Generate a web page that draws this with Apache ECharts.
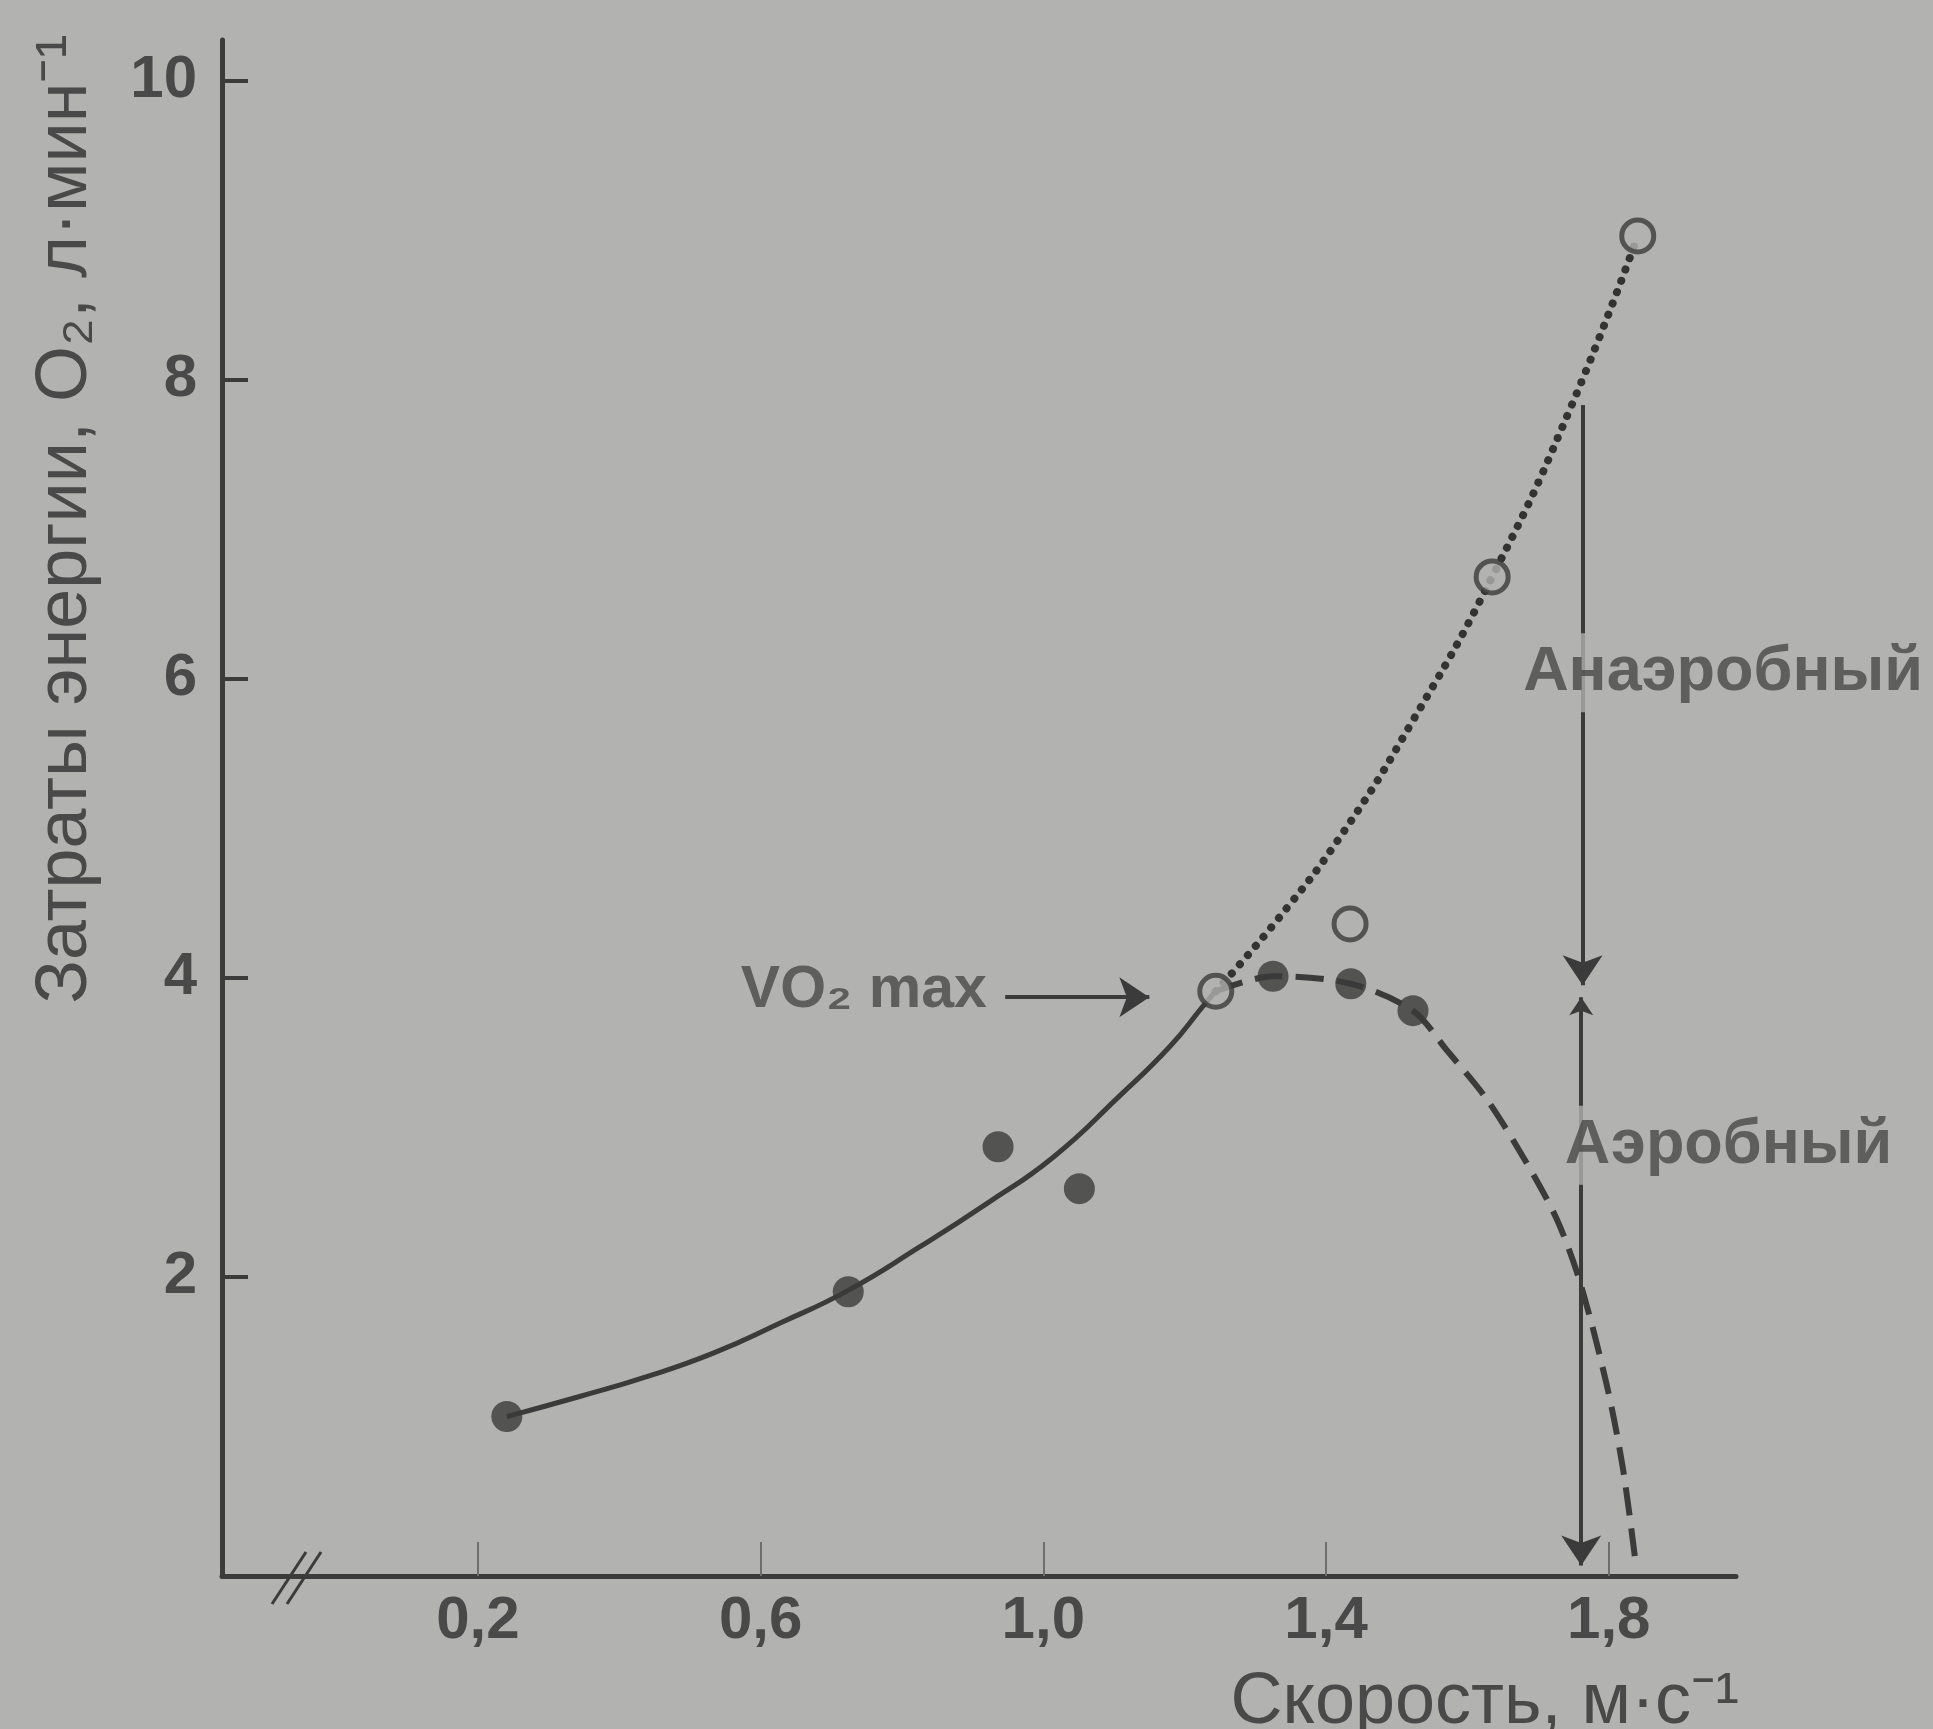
<!DOCTYPE html>
<html>
<head>
<meta charset="utf-8">
<script src="https://cdn.jsdelivr.net/npm/echarts@6/dist/echarts.min.js"></script>
<style>
html,body{margin:0;padding:0;background:#b2b2b0;}
#chart{width:1933px;height:1729px;}
</style>
</head>
<body>
<div id="chart"></div>
<script>
// ---- data ----
var xTicks = [0.2, 0.6, 1.0, 1.4, 1.8];
var yTicks = [2, 4, 6, 8, 10];

var filledX = [0.241, 0.724, 0.936, 1.051, 1.325, 1.435, 1.523];
var filledY = [1.066, 1.90, 2.87, 2.59, 4.01, 3.96, 3.78];

var openX = [1.244, 1.434, 1.635, 1.841];
var openY = [3.91, 4.36, 6.68, 8.96];

// solid fitted curve (aerobic rise)
var solidX = [0.241, 0.344, 0.439, 0.533, 0.627, 0.724, 0.825, 0.920, 1.014, 1.108, 1.179, 1.226, 1.244];
var solidY = [1.066, 1.20, 1.333, 1.49, 1.69, 1.91, 2.20, 2.49, 2.80, 3.21, 3.54, 3.81, 3.91];

// dashed curve (after VO2 max)
var dashX = [1.244, 1.325, 1.435, 1.523, 1.570, 1.627, 1.679, 1.726, 1.759, 1.797, 1.820, 1.839];
var dashY = [3.91, 4.01, 3.96, 3.78, 3.52, 3.19, 2.80, 2.39, 1.97, 1.28, 0.72, 0.05];

// dotted curve (total demand)
var dotX = [1.244, 1.335, 1.424, 1.518, 1.635, 1.745, 1.841];
var dotY = [3.91, 4.41, 4.97, 5.68, 6.68, 7.80, 8.96];

// arrows
var anaerobicArrow = [[1.763, 7.83], [1.763, 3.95]];
var aerobicArrow = [[1.761, 3.87], [1.761, 0.07]];
var vo2Arrow = [[0.946, 3.87], [1.150, 3.87]];

// annotations
var annText = ['VO\u2082 max', 'Анаэробный', 'Аэробный'];
var annX = [0.92, 1.676, 1.735];
var annY = [3.91, 6.04, 2.88];

var yTitle = 'Затраты энергии, O\u2082, л·мин\u207B\u00B9';
var xTitle = 'Скорость, м·с\u207B\u00B9';

// ---- chart ----
var INK = '#3b3b3b';
var TXT = '#494949';
var BG = '#b2b2b0';
var SANS = '"Liberation Sans", Arial, sans-serif';

function zip(a, b) { return a.map(function (v, i) { return [v, b[i]]; }); }

var chart = echarts.init(document.getElementById('chart'), null, {renderer: 'canvas'});

var annData = annText.map(function (t, i) {
  var isVo = i === 0;
  return {
    value: [annX[i], annY[i]],
    label: {
      show: true,
      formatter: t,
      position: [0, 0],
      align: isVo ? 'right' : 'left',
      verticalAlign: 'middle',
      fontFamily: SANS,
      fontWeight: 'bold',
      fontSize: isVo ? 59 : 63,
      color: TXT,
      backgroundColor: isVo ? 'transparent' : BG,
      padding: isVo ? 0 : [8, 2, 8, 2]
    }
  };
});

var option = {
  backgroundColor: BG,
  animation: false,
  grid: {left: 222, right: 197, top: 40, bottom: 153, containLabel: false},
  xAxis: {
    type: 'value', min: -0.162, max: 1.98,
    splitLine: {show: false},
    axisLine: {onZero: false, lineStyle: {color: INK, width: 5}},
    axisTick: {inside: true, length: 34, customValues: xTicks, lineStyle: {color: '#6e6e6e', width: 2}},
    axisLabel: {
      customValues: xTicks, margin: 15, fontSize: 60, fontWeight: 'bold', fontFamily: SANS, color: TXT,
      formatter: function (v) { return v.toFixed(1).replace('.', ','); }
    }
  },
  yAxis: {
    type: 'value', min: 0, max: 10.27,
    splitLine: {show: false},
    axisLine: {onZero: false, lineStyle: {color: INK, width: 5}},
    axisTick: {inside: true, length: 26, customValues: yTicks, lineStyle: {color: INK, width: 4}},
    axisLabel: {customValues: yTicks, margin: 25, fontSize: 60, fontWeight: 'bold', fontFamily: SANS, color: TXT}
  },
  series: [
    {type: 'line', data: zip(solidX, solidY), smooth: 0.5, symbol: 'none',
      lineStyle: {color: INK, width: 5}, z: 2},
    {type: 'line', data: zip(dashX, dashY), smooth: 0.3, symbol: 'none',
      lineStyle: {color: INK, width: 6, type: [28, 13]}, z: 2},
    {type: 'line', data: zip(dotX, dotY), smooth: 0.5, symbol: 'none',
      lineStyle: {color: '#333333', width: 8, type: [0.1, 12], cap: 'round'}, z: 2},
    {type: 'scatter', data: zip(filledX, filledY), symbol: 'circle', symbolSize: 31,
      itemStyle: {color: INK}, z: 4},
    {type: 'scatter', data: zip(openX, openY), symbol: 'circle', symbolSize: 32,
      itemStyle: {color: BG, borderColor: INK, borderWidth: 5}, z: 5},
    {type: 'lines', coordinateSystem: 'cartesian2d', symbol: ['none', 'arrow'], symbolSize: [18, 30],
      lineStyle: {color: INK, width: 4, opacity: 1},
      data: [{coords: anaerobicArrow}, {coords: vo2Arrow}], z: 3},
    {type: 'lines', coordinateSystem: 'cartesian2d', symbol: ['arrow', 'arrow'], symbolSize: [18, 30],
      lineStyle: {color: INK, width: 4, opacity: 1},
      data: [{coords: aerobicArrow}], z: 3},
    {type: 'scatter', data: annData, symbolSize: 0, itemStyle: {color: 'transparent'}, z: 6}
  ],
  graphic: [
    {type: 'text', x: 66, y: 519, rotation: Math.PI / 2,
      style: {text: yTitle, fontSize: 72, fontFamily: SANS, fill: TXT, textAlign: 'center', textVerticalAlign: 'middle'}},
    {type: 'text', x: 1739, y: 1703,
      style: {text: xTitle, fontSize: 72, fontFamily: SANS, fill: TXT, textAlign: 'right', textVerticalAlign: 'middle'}},
    {type: 'line', shape: {x1: 272, y1: 1604, x2: 306, y2: 1552}, style: {stroke: INK, lineWidth: 3}},
    {type: 'line', shape: {x1: 287, y1: 1604, x2: 321, y2: 1552}, style: {stroke: INK, lineWidth: 3}}
  ]
};
chart.setOption(option);
</script>
</body>
</html>
